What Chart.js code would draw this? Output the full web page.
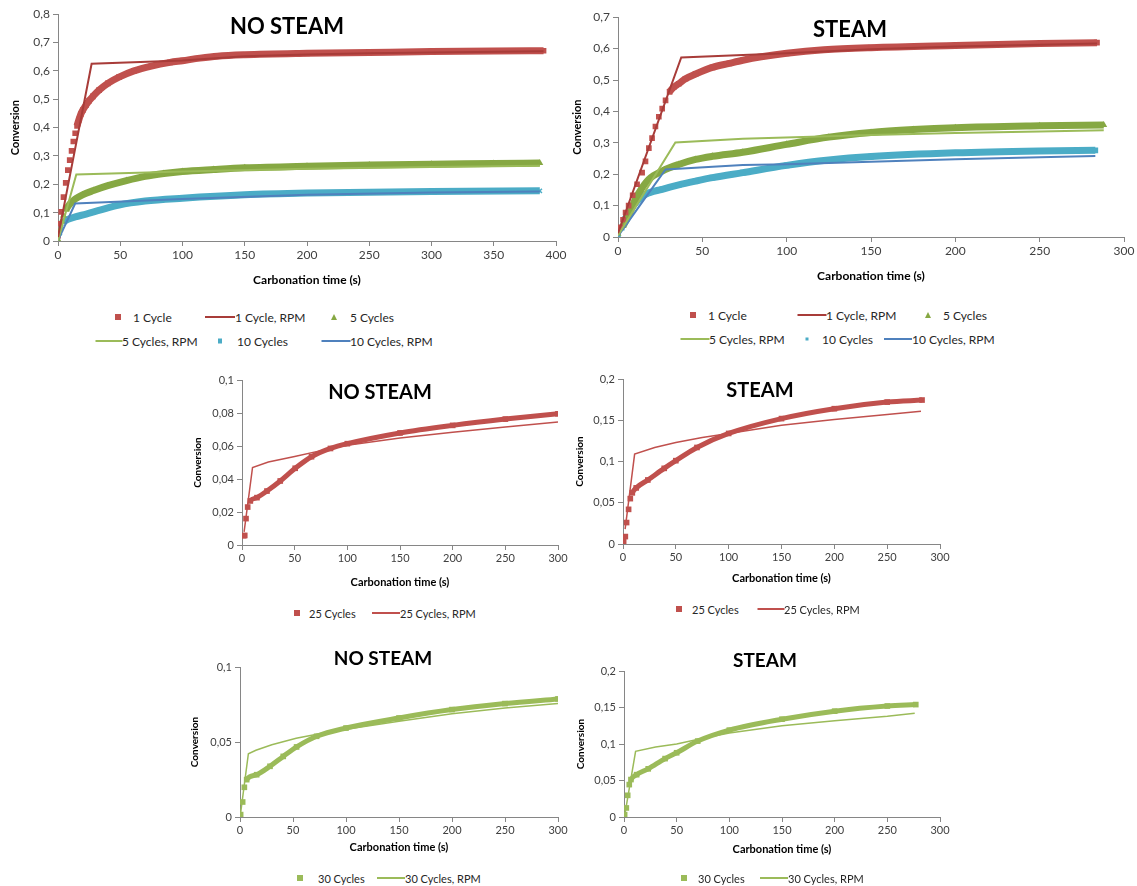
<!DOCTYPE html>
<html>
<head>
<meta charset="utf-8">
<script src="https://cdn.jsdelivr.net/npm/chart.js@4.4.1/dist/chart.umd.min.js"></script>
<style>
  body { margin: 0; width: 1137px; height: 886px; position: relative; overflow: hidden; background: #fff; font-family: Lato, 'Open Sans', sans-serif; }
  canvas { position: absolute; }
  .ttl { position: absolute; font-weight: bold; color: #000; transform: translate(-50%, -50%); white-space: nowrap; }
  .leg { position: absolute; font-size: 12px; color: #262626; white-space: nowrap; transform: translateY(-50%); }
  .mk { position: absolute; transform: translate(-50%, -50%); }
</style>
</head>
<body>
<script>
// ── Data: [time (s), conversion] ──

// NO STEAM, cycles 1 / 5 / 10
const ns1Cycle = [[0,0.019],[1.2,0.061],[2.6,0.103],[4.4,0.155],[6.2,0.205],[7.9,0.25],[9.4,0.285],[10.9,0.318],[12.3,0.351],[13.8,0.38],[15.3,0.406],[16.8,0.428],[18.3,0.447],[20,0.462],[22.6,0.48],[25,0.495],[28,0.51],[33,0.532],[40,0.556],[49,0.578],[61,0.6],[75,0.617],[90,0.63],[100,0.636],[114,0.645],[128,0.652],[150,0.657],[200,0.662],[250,0.665],[300,0.668],[350,0.67],[390,0.671]];
const ns1CycleRpm = [[0,0.014],[27,0.625],[100,0.637],[150,0.652],[200,0.658],[250,0.662],[300,0.665],[390,0.669]];
const ns5Cycles = [[0,0.005],[1.5,0.04],[2.9,0.07],[4.4,0.09],[6.5,0.11],[9.4,0.13],[13.8,0.148],[19.7,0.163],[28.5,0.178],[40,0.195],[55,0.213],[70,0.228],[85,0.238],[100,0.245],[125,0.252],[150,0.258],[200,0.264],[250,0.268],[300,0.271],[350,0.273],[387,0.275]];
const ns5CyclesRpm = [[0,0.002],[14.7,0.235],[100,0.245],[200,0.255],[300,0.261],[387,0.265]];
const ns10Cycles = [[0,0.002],[1.5,0.028],[2.6,0.05],[4.4,0.066],[7.9,0.076],[13.8,0.085],[22.6,0.095],[34.4,0.11],[49,0.127],[70,0.141],[100,0.151],[150,0.163],[200,0.169],[250,0.172],[300,0.175],[387,0.177]];
const ns10CyclesRpm = [[0,0.002],[13.8,0.132],[100,0.148],[200,0.163],[300,0.171],[387,0.175]];

// STEAM, cycles 1 / 5 / 10
const st1Cycle = [[0,0.02],[1.4,0.031],[3,0.055],[4.5,0.078],[6.3,0.1],[8.7,0.133],[11.3,0.168],[14.3,0.205],[16.3,0.241],[18.3,0.283],[20.2,0.315],[22.2,0.352],[24.2,0.383],[26.2,0.409],[28.2,0.435],[30.6,0.462],[33,0.477],[36,0.488],[40,0.504],[46,0.519],[56,0.54],[66,0.553],[74,0.563],[85,0.574],[100,0.585],[122,0.596],[150,0.603],[200,0.61],[250,0.616],[284,0.619]];
const st1CycleRpm = [[0,0.012],[37.5,0.572],[74,0.58],[100,0.585],[150,0.598],[200,0.607],[250,0.612],[284,0.616]];
const st5Cycles = [[0,0.01],[3,0.035],[6.3,0.068],[8.3,0.095],[10.3,0.12],[14.3,0.157],[18.3,0.184],[26.2,0.21],[36,0.231],[46,0.247],[56,0.257],[74,0.27],[100,0.295],[125,0.318],[150,0.333],[175,0.342],[200,0.348],[250,0.354],[288,0.357]];
const st5CyclesRpm = [[0,0.005],[34,0.301],[74,0.313],[150,0.325],[200,0.331],[250,0.336],[288,0.34]];
const st10Cycles = [[0,0.002],[2.2,0.03],[4.4,0.058],[6.3,0.078],[8.3,0.094],[10.3,0.108],[12.3,0.12],[16.3,0.136],[26.2,0.152],[36,0.166],[46,0.178],[56,0.189],[74,0.205],[100,0.228],[125,0.245],[150,0.256],[200,0.268],[250,0.274],[283,0.276]];
const st10CyclesRpm = [[0,0.003],[28.2,0.215],[74,0.229],[100,0.232],[150,0.24],[200,0.248],[250,0.254],[283,0.258]];

// 25 cycles
const ns25Cycles = [[1.6,0.0056],[2.6,0.0058],[3.8,0.016],[5.4,0.023],[7.9,0.0267],[14.2,0.0287],[23.7,0.0327],[36.3,0.0388],[50.5,0.0465],[66,0.0535],[84,0.0585],[100,0.0614],[150,0.0679],[200,0.0725],[250,0.0763],[300,0.0795]];
const ns25CyclesRpm = [[2,0.008],[10,0.047],[25,0.0503],[50,0.0537],[75,0.0572],[100,0.0605],[150,0.0648],[200,0.0683],[250,0.0715],[300,0.0745]];
const st25Cycles = [[0.6,0.003],[2.2,0.009],[3.4,0.026],[5.3,0.042],[6.9,0.055],[8.8,0.062],[12.5,0.068],[23.5,0.0776],[39,0.0917],[50,0.101],[70,0.117],[100,0.134],[150,0.152],[200,0.164],[250,0.172],[283,0.1745]];
const st25CyclesRpm = [[2,0.018],[11,0.109],[30,0.117],[50,0.123],[75,0.129],[100,0.134],[150,0.144],[200,0.151],[250,0.157],[282,0.161]];

// 30 cycles
const ns30Cycles = [[0.6,0.0016],[2.5,0.01],[4.1,0.0198],[6.3,0.0249],[15.7,0.0282],[28.3,0.0338],[40.8,0.0404],[53.4,0.0467],[72.3,0.0538],[100,0.0593],[150,0.066],[200,0.0716],[250,0.0756],[300,0.0787]];
const ns30CyclesRpm = [[0.6,0.0027],[7.9,0.0422],[15,0.0445],[30,0.0482],[53,0.0525],[75,0.0555],[100,0.0585],[150,0.0638],[200,0.0689],[250,0.0727],[300,0.0756]];
const st30Cycles = [[0.6,0.0032],[2.2,0.0124],[3.5,0.0297],[5,0.0444],[6.6,0.0513],[12,0.058],[23,0.066],[39,0.08],[50,0.088],[70,0.104],[100,0.119],[150,0.134],[200,0.145],[250,0.152],[277,0.154]];
const st30CyclesRpm = [[1,0.005],[11,0.09],[30,0.096],[50,0.1],[75,0.108],[100,0.115],[150,0.125],[200,0.132],[250,0.138],[276,0.142]];

// ── Colours ──
const RED = '#C0504D', RED_DK = '#A83C39', GREEN = '#9BBB59', GREEN_DK = '#86A843', CYAN = '#4BACC6', BLUE = '#4F81BD';

// ── Panels ──
const panels = [
  { title: 'NO STEAM', tx: 287, ty: 25, ts: 22, plot: [58, 14, 556, 241], xMax: 400, yMax: 0.8, yStep: 0.1,
    yTitleX: 16, xTitleY: 280, font: 12, band: 7,
    series: [
      { label: '1 Cycle', data: ns1Cycle, color: RED, style: 'rect', from: 15 },
      { label: '1 Cycle, RPM', data: ns1CycleRpm, color: RED_DK },
      { label: '5 Cycles', data: ns5Cycles, color: GREEN_DK, style: 'triangle', from: 5 },
      { label: '5 Cycles, RPM', data: ns5CyclesRpm, color: GREEN },
      { label: '10 Cycles', data: ns10Cycles, color: CYAN, style: 'crossRot', from: 4 },
      { label: '10 Cycles, RPM', data: ns10CyclesRpm, color: BLUE },
    ],
    legend: [
      [118, 133, 317], [205, 235, 317], [334, 350, 317],
      [95, 122, 341], [220, 237, 341], [321, 350, 341],
    ] },
  { title: 'STEAM', tx: 850, ty: 28, ts: 22, plot: [618, 17, 1124, 237], xMax: 300, yMax: 0.7, yStep: 0.1,
    yTitleX: 578, xTitleY: 276, font: 12, band: 7,
    series: [
      { label: '1 Cycle', data: st1Cycle, color: RED, style: 'rect', from: 30 },
      { label: '1 Cycle, RPM', data: st1CycleRpm, color: RED_DK },
      { label: '5 Cycles', data: st5Cycles, color: GREEN_DK, style: 'triangle', from: 3 },
      { label: '5 Cycles, RPM', data: st5CyclesRpm, color: GREEN },
      { label: '10 Cycles', data: st10Cycles, color: CYAN, style: 'rect', from: 3 },
      { label: '10 Cycles, RPM', data: st10CyclesRpm, color: BLUE },
    ],
    legend: [
      [693, 708, 315], [797, 826, 315], [928, 943, 315],
      [680, 709, 339], [807, 822, 339], [884, 912, 339],
    ] },
  { title: 'NO STEAM', tx: 380, ty: 391, ts: 20, plot: [242, 380, 558, 545], xMax: 300, yMax: 0.1, yStep: 0.02,
    yTitleX: 199, xTitleY: 582, font: 11, band: 5,
    series: [
      { label: '25 Cycles', data: ns25Cycles, color: RED, style: 'rect', from: 6 },
      { label: '25 Cycles, RPM', data: ns25CyclesRpm, color: RED },
    ],
    legend: [[297, 309, 613], [372, 400, 613]] },
  { title: 'STEAM', tx: 760, ty: 389, ts: 20, plot: [623, 379, 940, 544], xMax: 300, yMax: 0.2, yStep: 0.05,
    yTitleX: 581, xTitleY: 578, font: 11, band: 5,
    series: [
      { label: '25 Cycles', data: st25Cycles, color: RED, style: 'rect', from: 8 },
      { label: '25 Cycles, RPM', data: st25CyclesRpm, color: RED },
    ],
    legend: [[679, 692, 609], [757, 784, 609]] },
  { title: 'NO STEAM', tx: 383, ty: 657, ts: 19, plot: [240, 667, 558, 817], xMax: 300, yMax: 0.1, yStep: 0.05,
    yTitleX: 196, xTitleY: 847, font: 11, band: 5,
    series: [
      { label: '30 Cycles', data: ns30Cycles, color: GREEN, style: 'rect', from: 6 },
      { label: '30 Cycles, RPM', data: ns30CyclesRpm, color: GREEN },
    ],
    legend: [[300, 318, 878], [377, 405, 878]] },
  { title: 'STEAM', tx: 765, ty: 659, ts: 19, plot: [624, 671, 940, 817], xMax: 300, yMax: 0.2, yStep: 0.05,
    yTitleX: 582, xTitleY: 849, font: 11, band: 5,
    series: [
      { label: '30 Cycles', data: st30Cycles, color: GREEN, style: 'rect', from: 6 },
      { label: '30 Cycles, RPM', data: st30CyclesRpm, color: GREEN },
    ],
    legend: [[684, 698, 878], [760, 788, 878]] },
];

const AXIS = '#868686';
const fmtComma = v => v === 0 ? '0' : String(parseFloat(v.toFixed(4))).replace('.', ',');

function addDiv(cls, text, css) {
  const d = document.createElement('div');
  d.className = cls;
  if (text) d.textContent = text;
  Object.assign(d.style, css);
  document.body.appendChild(d);
  return d;
}

function buildDatasets(p) {
  return p.series.map(s => {
    const pts = s.data.map(([x, y]) => ({ x, y }));
    if (!s.style) {
      return { label: s.label, data: pts, showLine: true, borderColor: s.color, borderWidth: p.band > 5 ? 2 : 1.5,
               pointRadius: 0, order: 0 };
    }
    return {
      label: s.label, data: pts, showLine: true, order: 1,
      borderColor: s.color, backgroundColor: s.color, borderWidth: p.band,
      cubicInterpolationMode: 'monotone',
      pointStyle: s.style, pointRadius: s.style === 'crossRot' ? 3 : 4,
      pointBorderWidth: s.style === 'crossRot' ? 1.5 : 0, pointBorderColor: s.color,
      segment: { borderColor: ctx => ctx.p0.parsed.x < s.from ? 'rgba(0,0,0,0)' : s.color },
    };
  });
}

function drawLegend(p) {
  p.series.forEach((s, i) => {
    const [mx, tx, y] = p.legend[i];
    if (s.style) {
      const m = addDiv('mk', '', { left: mx + 'px', top: y + 'px' });
      if (s.style === 'triangle') {
        Object.assign(m.style, { width: 0, height: 0, borderLeft: '3px solid transparent', borderRight: '3px solid transparent', borderBottom: '6px solid ' + s.color });
      } else if (s.style === 'crossRot') {
        Object.assign(m.style, { width: '4px', height: '5px', background: s.color });
      } else {
        const sz = s.label.startsWith('10') ? 3 : 6;
        Object.assign(m.style, { width: sz + 'px', height: sz + 'px', background: s.color });
      }
    } else {
      addDiv('mk', '', { left: (mx + (tx - mx) / 2) + 'px', top: y + 'px', width: (tx - mx) + 'px', height: '2px', background: s.color });
    }
    addDiv('leg', s.label, { left: tx + 'px', top: y + 'px', fontSize: (p.font === 12 ? 12 : 11) + 'px' });
  });
}

function makeChart(p) {
  const [l, t, r, b] = p.plot;
  const yW = l - p.yTitleX + 7;
  const xH = p.xTitleY + 7 - b;
  const padTop = 10, padRight = 22;
  const cv = document.createElement('canvas');
  cv.width = yW + (r - l) + padRight;
  cv.height = padTop + (b - t) + xH;
  cv.style.left = (l - yW) + 'px';
  cv.style.top = (t - padTop) + 'px';
  document.body.appendChild(cv);

  const tickFont = { family: 'Lato', size: p.font };
  new Chart(cv, {
    type: 'scatter',
    data: { datasets: buildDatasets(p) },
    options: {
      responsive: false,
      animation: false,
      events: [],
      layout: { padding: { top: padTop, right: padRight, left: 0, bottom: 0 } },
      plugins: { legend: { display: false }, tooltip: { enabled: false } },
      scales: {
        x: {
          type: 'linear', min: 0, max: p.xMax,
          afterFit: s => { s.height = xH; },
          ticks: { stepSize: 50, autoSkip: false, maxRotation: 0, font: tickFont, color: '#404040', padding: 2, callback: fmtComma },
          grid: { drawOnChartArea: false, drawTicks: true, tickLength: 5, color: AXIS },
          border: { color: AXIS },
          title: { display: true, text: 'Carbonation time (s)', color: '#000', padding: 0,
                   font: { family: 'Lato', weight: 'bold', size: p.font } },
        },
        y: {
          type: 'linear', min: 0, max: p.yMax,
          afterFit: s => { s.width = yW; },
          ticks: { stepSize: p.yStep, font: tickFont, color: '#404040', padding: 3, callback: fmtComma },
          grid: { drawOnChartArea: false, drawTicks: true, tickLength: 5, color: AXIS },
          border: { color: AXIS },
          title: { display: true, text: 'Conversion', color: '#000', padding: 0,
                   font: { family: 'Lato', weight: 'bold', size: p.font - 1 } },
        },
      },
    },
  });

  addDiv('ttl', p.title, { left: p.tx + 'px', top: p.ty + 'px', fontSize: p.ts + 'px' });
  drawLegend(p);
}

panels.forEach(makeChart);
</script>
</body>
</html>
